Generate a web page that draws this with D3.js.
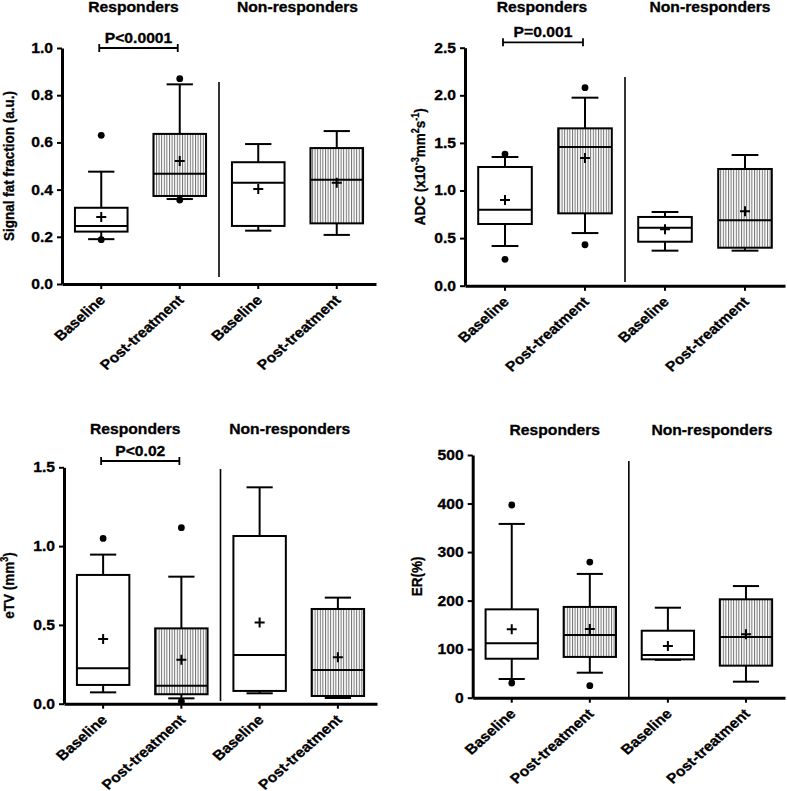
<!DOCTYPE html>
<html>
<head>
<meta charset="utf-8">
<script src="https://cdn.jsdelivr.net/npm/d3@7"></script>
<style>
  body { margin: 0; background: #fff; }
  svg { display: block; font-family: "Liberation Sans", Arial, sans-serif; font-weight: bold; }
  text { stroke: #000; stroke-width: 0.3px; }
</style>
</head>
<body>
<svg id="chart" width="787" height="791"></svg>
<script>
// categories (same four on every panel)
var categories = ["Baseline", "Post-treatment", "Baseline", "Post-treatment"];
var groups = ["Responders", "Non-responders"];

// box rows: [whisker low, Q1, median, Q3, whisker high, mean]
var fatBox = [
  [0.19, 0.222, 0.246, 0.323, 0.476, 0.284],
  [0.36, 0.373, 0.467, 0.636, 0.846, 0.521],
  [0.226, 0.246, 0.429, 0.516, 0.593, 0.403],
  [0.208, 0.257, 0.442, 0.576, 0.648, 0.429]
];
var fatOut = [[0.63, 0.188], [0.87, 0.356], [], []];

var adcBox = [
  [0.417, 0.648, 0.798, 1.247, 1.352, 0.90],
  [0.553, 0.76, 1.457, 1.653, 1.975, 1.341],
  [0.368, 0.462, 0.609, 0.722, 0.774, 0.592],
  [0.368, 0.399, 0.687, 1.226, 1.373, 0.781]
];
var adcOut = [[1.383, 0.277], [2.08, 0.43], [], []];

var etvBox = [
  [0.072, 0.119, 0.225, 0.817, 0.946, 0.41],
  [0.034, 0.06, 0.114, 0.478, 0.806, 0.279],
  [0.066, 0.081, 0.309, 1.064, 1.373, 0.516],
  [0.036, 0.049, 0.214, 0.601, 0.673, 0.294]
];
var etvOut = [[1.049], [1.117, 0.015], [], []];

var erBox = [
  [38.5, 80.3, 112, 182, 358, 141],
  [51.5, 84, 129, 187, 255, 141.5],
  [78, 79, 88, 138, 185.4, 106.5],
  [33, 66, 125, 202.7, 230, 130.6]
];
var erOut = [[397, 30.3], [279.5, 24.7], [], []];

var fatTicks = [0, 0.2, 0.4, 0.6, 0.8, 1.0];
var adcTicks = [0, 0.5, 1.0, 1.5, 2.0, 2.5];
var etvTicks = [0, 0.5, 1.0, 1.5];
var erTicks = [0, 100, 200, 300, 400, 500];

var svg = d3.select("#chart");
var SX = 1.12; // the figure is a little stretched sideways

var defs = svg.append("defs");
defs.append("pattern")
    .attr("id", "hatch")
    .attr("patternUnits", "userSpaceOnUse")
    .attr("width", 2.6)
    .attr("height", 10)
  .append("rect")
    .attr("x", 0).attr("y", 0)
    .attr("width", 1).attr("height", 10)
    .attr("fill", "#707070");

var panels = [
  { box: fatBox, out: fatOut, ticks: fatTicks, fmt: ".1f",
    label: [["Signal fat fraction (a.u.)"]], labX: 9,
    x0: 62, x1: 376, yTop: 48, yBot: 284, sep: [82, 277],
    headY: 12, headDx: [-7, 0], p: { text: "P<0.0001", y: 48 } },
  { box: adcBox, out: adcOut, ticks: adcTicks, fmt: ".1f",
    label: [["ADC (x10"], ["-3", 1], ["mm"], ["2", 1], ["s"], ["-1", 1], [")"]], labX: 420,
    x0: 465, x1: 785, yTop: 47.7, yBot: 285.7, sep: [77, 282],
    headY: 12, headDx: [-3, 5], p: { text: "P=0.001", y: 42.3 } },
  { box: etvBox, out: etvOut, ticks: etvTicks, fmt: ".1f",
    label: [["eTV (mm"], ["3", 1], [")"]], labX: 9,
    x0: 64, x1: 377, yTop: 467.3, yBot: 703.7, sep: [469, 701],
    headY: 434, headDx: [-7, -9], p: { text: "P<0.02", y: 461 } },
  { box: erBox, out: erOut, ticks: erTicks, fmt: "d",
    label: [["ER(%)"]], labX: 417,
    x0: 472.7, x1: 785, yTop: 455, yBot: 697.7, sep: [461, 697],
    headY: 435, headDx: [4, 5], p: null }
];

panels.forEach(drawPanel);

function drawPanel(cfg) {
  var g = svg.append("g");
  var x = d3.scaleBand().domain(d3.range(categories.length)).range([cfg.x0, cfg.x1]);
  var y = d3.scaleLinear()
      .domain([0, cfg.ticks[cfg.ticks.length - 1]])
      .range([cfg.yBot, cfg.yTop]);
  var bw = x.bandwidth() * 0.67;
  var cw = bw / 2;
  var cx = function(i) { return x(i) + x.bandwidth() / 2; };

  // separator between responders and non-responders
  g.append("line")
      .attr("x1", x(2)).attr("x2", x(2))
      .attr("y1", cfg.sep[0]).attr("y2", cfg.sep[1])
      .attr("stroke", "#000").attr("stroke-width", 1.6);

  // group headers
  groups.forEach(function(name, k) {
    var mid = (cx(2 * k) + cx(2 * k + 1)) / 2 + cfg.headDx[k];
    g.append("text")
        .attr("transform", "translate(" + mid + "," + cfg.headY + ") scale(" + SX + ",1)")
        .attr("text-anchor", "middle")
        .attr("font-size", 14)
        .text(name);
  });

  // boxes
  var boxes = g.selectAll(".box").data(cfg.box).enter().append("g");
  boxes.each(function(d, i) {
    var b = d3.select(this);
    // whiskers with caps
    [[d[3], d[4]], [d[1], d[0]]].forEach(function(w) {
      b.append("line")
          .attr("x1", cx(i)).attr("x2", cx(i))
          .attr("y1", y(w[0])).attr("y2", y(w[1]))
          .attr("stroke", "#000").attr("stroke-width", 2);
      b.append("line")
          .attr("x1", cx(i) - cw / 2).attr("x2", cx(i) + cw / 2)
          .attr("y1", y(w[1])).attr("y2", y(w[1]))
          .attr("stroke", "#000").attr("stroke-width", 2);
    });
    b.append("rect")
        .attr("x", cx(i) - bw / 2)
        .attr("y", y(d[3]))
        .attr("width", bw)
        .attr("height", y(d[1]) - y(d[3]))
        .attr("fill", i % 2 ? "url(#hatch)" : "#fff")
        .attr("stroke", "#000").attr("stroke-width", 2);
    b.append("line")
        .attr("x1", cx(i) - bw / 2).attr("x2", cx(i) + bw / 2)
        .attr("y1", y(d[2])).attr("y2", y(d[2]))
        .attr("stroke", "#000").attr("stroke-width", 2);
    // mean as +
    b.append("path")
        .attr("d", "M" + (cx(i) - 5) + "," + y(d[5]) + "h10M" + cx(i) + "," + (y(d[5]) - 5) + "v10")
        .attr("stroke", "#000").attr("stroke-width", 2);
  });

  // outliers
  cfg.out.forEach(function(list, i) {
    g.selectAll(null).data(list).enter().append("circle")
        .attr("cx", cx(i))
        .attr("cy", function(v) { return y(v); })
        .attr("r", 3.4)
        .attr("fill", "#000");
  });

  // axes
  var yAxis = d3.axisLeft(y).tickValues(cfg.ticks)
      .tickFormat(d3.format(cfg.fmt)).tickSize(5).tickSizeOuter(0).tickPadding(4);
  var ya = g.append("g").attr("transform", "translate(" + cfg.x0 + ",0)").call(yAxis);
  ya.select(".domain").attr("stroke-width", 3);
  ya.selectAll(".tick line").attr("stroke-width", 2);
  ya.selectAll("text")
      .attr("font-size", 14).attr("font-family", null)
      .attr("transform", "scale(" + SX + ",1)")
      .attr("x", -9 / SX);

  var xAxis = d3.axisBottom(x).tickFormat(function(i) { return categories[i]; })
      .tickSize(5).tickSizeOuter(0);
  var xa = g.append("g").attr("transform", "translate(0," + cfg.yBot + ")").call(xAxis);
  xa.select(".domain").attr("stroke-width", 3);
  xa.selectAll(".tick line").attr("stroke-width", 2);
  xa.selectAll("text")
      .attr("font-size", 14).attr("font-family", null)
      .attr("x", null).attr("y", null).attr("dy", null)
      .attr("text-anchor", "end")
      .attr("transform", "translate(5,17) scale(" + SX + ",1) rotate(-45)");
  ya.attr("fill", null); xa.attr("fill", null);

  // y label
  var cy = (cfg.yTop + cfg.yBot) / 2;
  var lab = g.append("text")
      .attr("transform", "translate(" + cfg.labX + "," + cy + ") scale(" + SX + ",1) rotate(-90)")
      .attr("text-anchor", "middle")
      .attr("dy", "0.35em")
      .attr("font-size", 13.5);
  var up = false;
  cfg.label.forEach(function(part) {
    var t = lab.append("tspan").text(part[0]);
    if (part[1]) { t.attr("font-size", 9).attr("dy", -6); up = true; }
    else if (up) { t.attr("dy", 6); up = false; }
  });

  // significance bracket
  if (cfg.p) {
    var a = cx(0) - 2, b2 = cx(1) - 2;
    g.append("path")
        .attr("d", "M" + a + "," + (cfg.p.y - 4) + "v8M" + a + "," + cfg.p.y + "H" + b2 +
              "M" + b2 + "," + (cfg.p.y - 4) + "v8")
        .attr("fill", "none").attr("stroke", "#000").attr("stroke-width", 1.8);
    g.append("text")
        .attr("transform", "translate(" + (a + b2) / 2 + "," + (cfg.p.y - 5) + ") scale(" + SX + ",1)")
        .attr("text-anchor", "middle")
        .attr("font-size", 14)
        .text(cfg.p.text);
  }
}
</script>
</body>
</html>
